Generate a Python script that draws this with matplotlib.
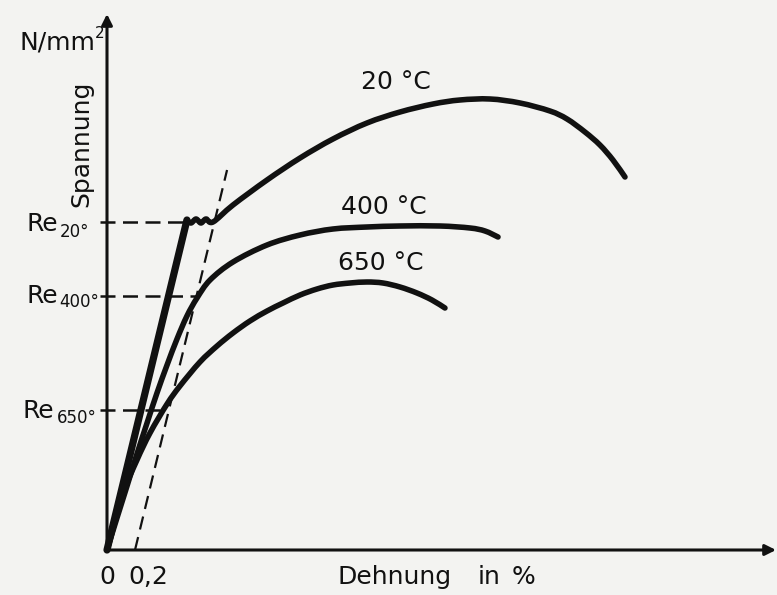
import matplotlib
matplotlib.use("Agg")
import matplotlib.pyplot as plt
from matplotlib.path import Path
from matplotlib.patches import PathPatch

# Stress-strain curves of a steel at three temperatures
# strain in %, stress in N/mm^2
strain_20 = [0, 0.571, 0.6, 0.636, 0.671, 0.707, 0.757, 0.9, 1.143, 1.379,
             1.614, 1.857, 2.093, 2.329, 2.521, 2.736, 2.95, 3.164, 3.286,
             3.414, 3.521, 3.614, 3.7]
stress_20 = [0, 330, 327, 331, 327, 331, 328, 345, 370, 392,
             411, 427, 438, 446, 450, 451, 447, 439, 431,
             418, 405, 390, 373]

strain_400 = [0, 0.071, 0.143, 0.214, 0.286, 0.357, 0.429, 0.5, 0.571, 0.643,
              0.736, 0.9, 1.143, 1.379, 1.614, 1.857, 2.093, 2.379, 2.593,
              2.7, 2.793]
stress_400 = [0, 32, 64, 96, 127, 157, 185, 211, 234, 252,
              270, 288, 305, 315, 321, 323, 324, 324, 322,
              319, 313]

strain_650 = [0, 0.114, 0.214, 0.307, 0.429, 0.521, 0.664, 0.786, 0.9,
              1.021, 1.143, 1.257, 1.379, 1.5, 1.614, 1.736, 1.857, 1.971,
              2.093, 2.214, 2.321, 2.414]
stress_650 = [0, 56, 90, 117, 146, 164, 188, 204, 217,
              229, 239, 247, 255, 261, 265, 267, 268, 267,
              263, 257, 250, 242]

curve_labels = ["20 °C", "400 °C", "650 °C"]

# yield strengths and their labels
yield_values = [328, 254, 140]
yield_subscripts = ["20°", "400°", "650°"]
yield_line_ends = [0.571, 0.64, 0.405]   # strain where each dashed line stops

offset_strain = 0.2                 # 0,2 % proof-strain offset
elastic_compliance = 0.571 / 330    # % per N/mm^2 (slope of the elastic line)
offset_top_stress = 380

x_ticks = [0, 0.2]
x_tick_labels = ["0", "0,2"]

# pixel-like frame: 140 px per % strain, 1 px per N/mm^2
PX_X = 140.0
X0, Y0 = 107, 550
W, H = 777, 595


def px(x, y):
    """Figure pixel (from top-left) to data coordinates."""
    return (x - X0) / PX_X, Y0 - y


def smooth_path(xs, ys):
    """Cubic Bezier path through the given points (Catmull-Rom tangents)."""
    pts = list(zip(xs, ys))
    n = len(pts)
    verts = [pts[0]]
    codes = [Path.MOVETO]
    for i in range(n - 1):
        p0 = pts[max(i - 1, 0)]
        p1 = pts[i]
        p2 = pts[i + 1]
        p3 = pts[min(i + 2, n - 1)]
        c1 = (p1[0] + (p2[0] - p0[0]) / 6, p1[1] + (p2[1] - p0[1]) / 6)
        c2 = (p2[0] - (p3[0] - p1[0]) / 6, p2[1] - (p3[1] - p1[1]) / 6)
        verts += [c1, c2, p2]
        codes += [Path.CURVE4] * 3
    return Path(verts, codes)


fig = plt.figure(figsize=(W / 100, H / 100), dpi=100)
paper = "#f3f3f1"
fig.patch.set_facecolor(paper)
ax = fig.add_axes([0, 0, 1, 1])
ax.set_facecolor(paper)
ax.set_xlim(-X0 / PX_X, (W - X0) / PX_X)
ax.set_ylim(Y0 - H, Y0)
ax.axis("off")

ink = "#111111"
font = "DejaVu Sans"
fs = 18

# axes with arrow heads
ax.annotate("", xy=px(107, 14), xytext=(0, 0),
            arrowprops=dict(arrowstyle="-|>", lw=2.2, color=ink,
                            mutation_scale=16, shrinkA=0, shrinkB=0))
ax.annotate("", xy=px(776, 550), xytext=(0, 0),
            arrowprops=dict(arrowstyle="-|>", lw=2.2, color=ink,
                            mutation_scale=16, shrinkA=0, shrinkB=0))

# 0,2 % offset line
ax.plot([offset_strain, offset_strain + offset_top_stress * elastic_compliance],
        [0, offset_top_stress], color=ink, lw=1.6, dashes=(6, 3.5))

# dashed lines marking the yield strengths
x_start = px(100, 0)[0]
for yv, xe in zip(yield_values, yield_line_ends):
    ax.plot([x_start, xe], [yv, yv], color=ink, lw=1.8, dashes=(6, 3))

# curves
ax.plot(strain_20[:2], stress_20[:2], color=ink, lw=5.2,
        solid_capstyle="round")
for xs, ys in [(strain_20[1:], stress_20[1:]), (strain_400, stress_400),
               (strain_650, stress_650)]:
    ax.add_patch(PathPatch(smooth_path(xs, ys), facecolor="none",
                           edgecolor=ink, lw=4.0, capstyle="round",
                           joinstyle="round"))

# curve labels
label_pos = [px(396, 82), px(384, 207), px(381, 263)]
for (lx, ly), lab in zip(label_pos, curve_labels):
    ax.text(lx, ly, lab, ha="center", va="center", fontsize=fs,
            family=font, color=ink)

# yield labels on the stress axis: "Re" with a temperature subscript
re_left = [27, 27, 23]
re_base = [231, 303, 418]
sub_left = [60, 59, 57]
sub_base = [237, 307, 423]
for sub, xl, yb, xs_, ys_ in zip(yield_subscripts, re_left, re_base,
                                 sub_left, sub_base):
    ax.text(*px(xl, yb), "Re", ha="left", va="baseline",
            fontsize=fs, family=font, color=ink)
    ax.text(*px(xs_, ys_), sub, ha="left", va="baseline",
            fontsize=12, family=font, color=ink)

# axis titles
ax.text(*px(95, 50), "N/mm", ha="right", va="baseline",
        fontsize=fs, family=font, color=ink)
ax.text(*px(95, 38), "2", ha="left", va="baseline",
        fontsize=11, family=font, color=ink)
ax.text(*px(81, 144), "Spannung", ha="center", va="center", rotation=90,
        fontsize=fs, family=font, color=ink)
for word, xl in [("Dehnung", 337), ("in", 478), ("%", 512)]:
    ax.text(*px(xl, 584), word, ha="left", va="baseline",
            fontsize=fs, family=font, color=ink)

# strain tick labels
ax.text(x_ticks[0], px(0, 584)[1], x_tick_labels[0], ha="center",
        va="baseline", fontsize=fs, family=font, color=ink)
ax.text(x_ticks[1] - 0.05, px(0, 584)[1], x_tick_labels[1], ha="left",
        va="baseline", fontsize=fs, family=font, color=ink)

fig.savefig("out.png", dpi=100, facecolor=fig.get_facecolor())
